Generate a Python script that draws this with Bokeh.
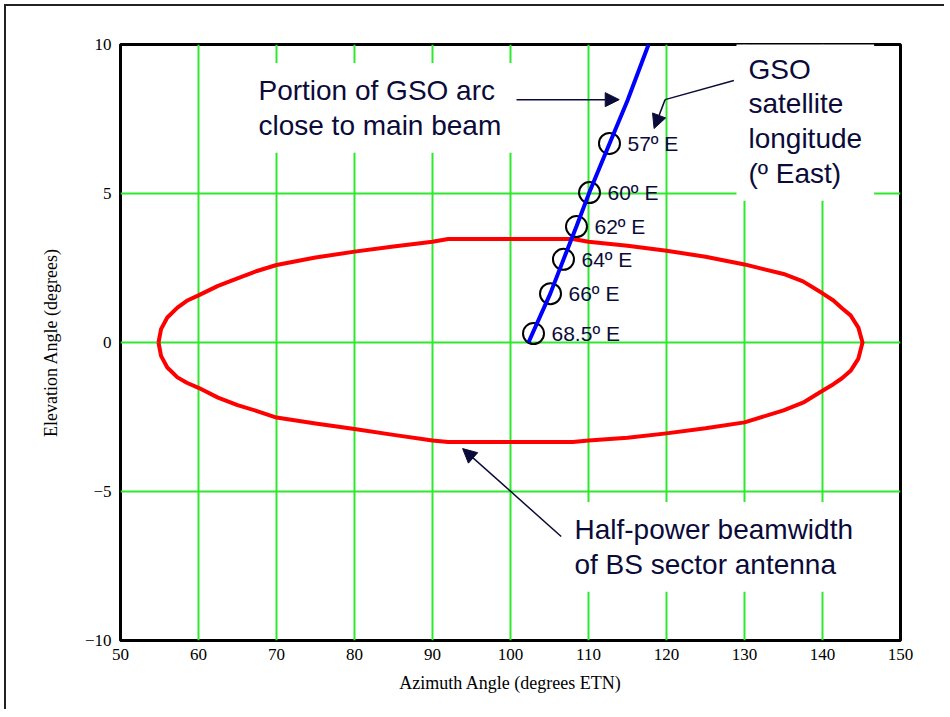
from bokeh.plotting import figure
from bokeh.models import Label, Arrow, NormalHead, FixedTicker, Range1d
from bokeh.core.properties import value
from bokeh.embed import file_html
from bokeh.resources import INLINE

# ---------------- data ----------------
x_ticks = [50, 60, 70, 80, 90, 100, 110, 120, 130, 140, 150]
y_ticks = [-10, -5, 0, 5, 10]
y_tick_labels = {-10: "\u221210", -5: "\u22125", 0: "0", 5: "5", 10: "10"}

# half-power beamwidth contour of BS sector antenna (upper and lower halves)
beam_upper_az = [54.87, 55.2, 56.0, 57.3, 58.5, 60.0, 62.5, 65.0, 67.5, 70.0, 75.0, 80.0,
                 85.0, 90.0, 92.0, 108.0, 110.0, 115.0, 120.0, 125.0, 130.0, 135.0,
                 137.5, 140.0, 141.4, 142.5, 143.6, 144.6, 145.13]
beam_upper_el = [0.0, 0.45, 0.84, 1.17, 1.4, 1.58, 1.9, 2.15, 2.4, 2.6, 2.85, 3.05,
                 3.22, 3.38, 3.47, 3.47, 3.38, 3.25, 3.08, 2.88, 2.62, 2.3,
                 2.05, 1.65, 1.41, 1.15, 0.91, 0.5, 0.0]
beam_lower_az = [145.13, 144.6, 143.6, 142.5, 141.4, 140.0, 137.5, 135.0, 130.0, 125.0,
                 120.0, 115.0, 110.0, 108.0, 92.0, 90.0, 85.0, 80.0, 75.0, 70.0, 67.5,
                 65.0, 62.5, 60.0, 58.5, 57.3, 56.0, 55.2, 54.87]
beam_lower_el = [0.0, -0.54, -0.95, -1.2, -1.4, -1.62, -2.02, -2.28, -2.68, -2.88,
                 -3.05, -3.2, -3.29, -3.34, -3.34, -3.29, -3.1, -2.9, -2.72, -2.52, -2.3,
                 -2.1, -1.85, -1.52, -1.35, -1.17, -0.84, -0.45, 0.0]

# portion of GSO arc close to main beam
gso_az = [102.3, 105.1, 106.8, 108.45, 110.1, 112.7, 115.0, 117.7]
gso_el = [0.0, 1.64, 2.79, 3.89, 5.03, 6.68, 8.12, 10.0]

# GSO satellite longitudes (deg East) and their positions
sat_lon = ["57", "60", "62", "64", "66", "68.5"]
sat_az = [112.69, 110.13, 108.46, 106.79, 105.13, 102.95]
sat_el = [6.68, 5.03, 3.89, 2.79, 1.64, 0.30]
sat_labels = [f"{lon}\u00ba E" for lon in sat_lon]

# ---------------- styling ----------------
NAVY = "#0b0b3a"
GRID = "#2ee82e"
SANS = "Liberation Sans"
SERIF = "Liberation Serif"

p = figure(width=940, height=705, output_backend="svg", toolbar_location=None,
           x_range=Range1d(50, 150), y_range=Range1d(-10, 10),
           min_border_left=114, min_border_right=46, min_border_top=38, min_border_bottom=71)
p.styles = {"border-left": "2px solid #222", "border-top": "2px solid #222",
            "margin-left": "4px", "margin-top": "4px"}
p.background_fill_color = "white"
p.border_fill_color = "white"
p.outline_line_color = "black"
p.outline_line_width = 3

for ax in (p.xaxis[0], p.yaxis[0]):
    ax.axis_line_color = None
    ax.major_tick_line_color = None
    ax.minor_tick_line_color = None
    ax.major_tick_in = 0
    ax.major_tick_out = 0
    ax.major_label_text_font = SERIF
    ax.major_label_text_font_size = "17px"
    ax.major_label_text_color = "black"
    ax.axis_label_text_font = SERIF
    ax.axis_label_text_font_size = "18px"
    ax.axis_label_text_font_style = "normal"
    ax.axis_label_text_color = "black"

p.xaxis.ticker = FixedTicker(ticks=x_ticks)
p.yaxis.ticker = FixedTicker(ticks=y_ticks)
p.yaxis.major_label_overrides = y_tick_labels
p.xaxis.axis_label = "Azimuth Angle (degrees ETN)"
p.yaxis.axis_label = "Elevation Angle (degrees)"
p.xaxis.major_label_standoff = 8
p.xaxis.axis_label_standoff = 10
p.yaxis.major_label_standoff = 9
p.yaxis.axis_label_standoff = 21

p.xgrid.ticker = FixedTicker(ticks=x_ticks)
p.ygrid.ticker = FixedTicker(ticks=y_ticks)
for g in (p.xgrid[0], p.ygrid[0]):
    g.grid_line_color = GRID
    g.grid_line_width = 2

# beam contour
p.line(beam_upper_az + beam_lower_az, beam_upper_el + beam_lower_el,
       line_color="#ff0000", line_width=4, line_join="round")

# satellite markers
p.scatter(sat_az, sat_el, marker="circle", size=21, fill_color=None,
          line_color="black", line_width=2)

# GSO arc
p.line(gso_az, gso_el, line_color="#0000ff", line_width=4)

p.text(sat_az, sat_el, text=sat_labels, x_offset=18, text_baseline="middle",
       text_align="left", text_font=value(SANS), text_font_size="21px", text_color=NAVY)

# ---------------- annotations ----------------
def note(x, y, txt):
    lab = Label(x=x, y=y, text=txt, text_font=SANS, text_font_size="28px",
                text_color=NAVY, text_align="left", text_baseline="top",
                text_line_height=1.12, background_fill_color="white",
                padding=12)
    p.add_layout(lab)

note(66.15, 9.38, "Portion of GSO arc\nclose to main beam")
note(128.97, 10.1, "GSO\nsatellite\nlongitude\n(\u00ba East)")
note(106.66, -5.35, "Half-power beamwidth\nof BS sector antenna")

def head():
    return NormalHead(size=14, fill_color=NAVY, line_color=NAVY, line_width=1)

p.add_layout(Arrow(end=head(), x_start=100.77, y_start=8.15, x_end=113.94, y_end=8.15,
                   line_color=NAVY, line_width=1.5))
p.add_layout(Arrow(end=head(), x_start=106.5, y_start=-6.51, x_end=93.86, y_end=-3.56,
                   line_color=NAVY, line_width=1.5))
p.line([128.64, 119.82], [8.79, 8.15], line_color=NAVY, line_width=1.5)
p.add_layout(Arrow(end=head(), x_start=119.82, y_start=8.15, x_end=118.41, y_end=7.18,
                   line_color=NAVY, line_width=1.5))

open("out.html", "w").write(file_html(p, INLINE))
